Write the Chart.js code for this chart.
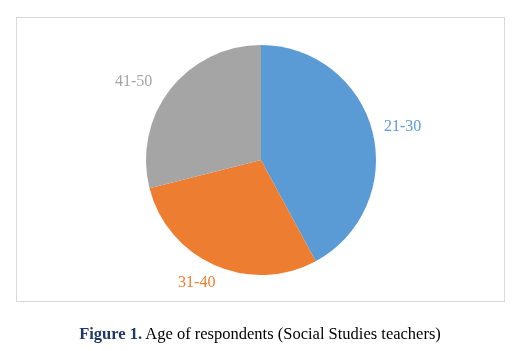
<!DOCTYPE html>
<html>
<head>
<meta charset="utf-8">
<script src="https://cdn.jsdelivr.net/npm/chart.js@4"></script>
<style>
  body { margin: 0; background: #ffffff; }
  #cadre { position: absolute; left: 16px; top: 17px; width: 487px; height: 283px;
           border: 1.5px solid #d9d9d9; }
  #boite { position: absolute; left: 0; top: 0; width: 524px; height: 351px; }
  #legende { position: absolute; left: 0; top: 324px; width: 524px; text-align: center;
             font-family: "Liberation Serif", serif; font-size: 16.5px; color: #000; padding-right: 4px; box-sizing: border-box; }
  #legende b { color: #1f3864; }
</style>
</head>
<body>
<div id="cadre"></div>
<div id="boite"><canvas id="graficoIdade"></canvas></div>
<div id="legende"><b>Figure 1.</b> Age of respondents (Social Studies teachers)</div>
<script>
// dados do grafico
const faixas = ['21-30', '31-40', '41-50'];
const respondentes = [16, 11, 11];
const cores = ['#5b9bd5', '#ed7d31', '#a5a5a5'];

// rotulos fora da pizza, na cor de cada fatia (ajuste fino tipo "melhor ajuste" do excel)
const ajustes = [[1, 2], [-6, -10], [-13, 11]];
const rotulosFora = {
  id: 'rotulosFora',
  afterDatasetsDraw(chart) {
    const ctx = chart.ctx;
    const meta = chart.getDatasetMeta(0);
    ctx.save();
    ctx.font = '16px "Liberation Serif", serif';
    ctx.textAlign = 'center';
    ctx.textBaseline = 'middle';
    meta.data.forEach((arc, i) => {
      const meio = (arc.startAngle + arc.endAngle) / 2;
      const dist = arc.outerRadius + 30;
      ctx.fillStyle = cores[i];
      ctx.fillText(faixas[i],
        arc.x + Math.cos(meio) * dist + ajustes[i][0],
        arc.y + Math.sin(meio) * dist + ajustes[i][1]);
    });
    ctx.restore();
  }
};

new Chart(document.getElementById('graficoIdade'), {
  type: 'pie',
  data: {
    labels: faixas,
    datasets: [{
      data: respondentes,
      backgroundColor: cores,
      borderWidth: 0
    }]
  },
  options: {
    responsive: true,
    maintainAspectRatio: false,
    animation: false,
    layout: { padding: { top: 45, bottom: 76, left: 146, right: 148 } },
    plugins: {
      legend: { display: false },
      tooltip: { enabled: false }
    }
  },
  plugins: [rotulosFora]
});
</script>
</body>
</html>
